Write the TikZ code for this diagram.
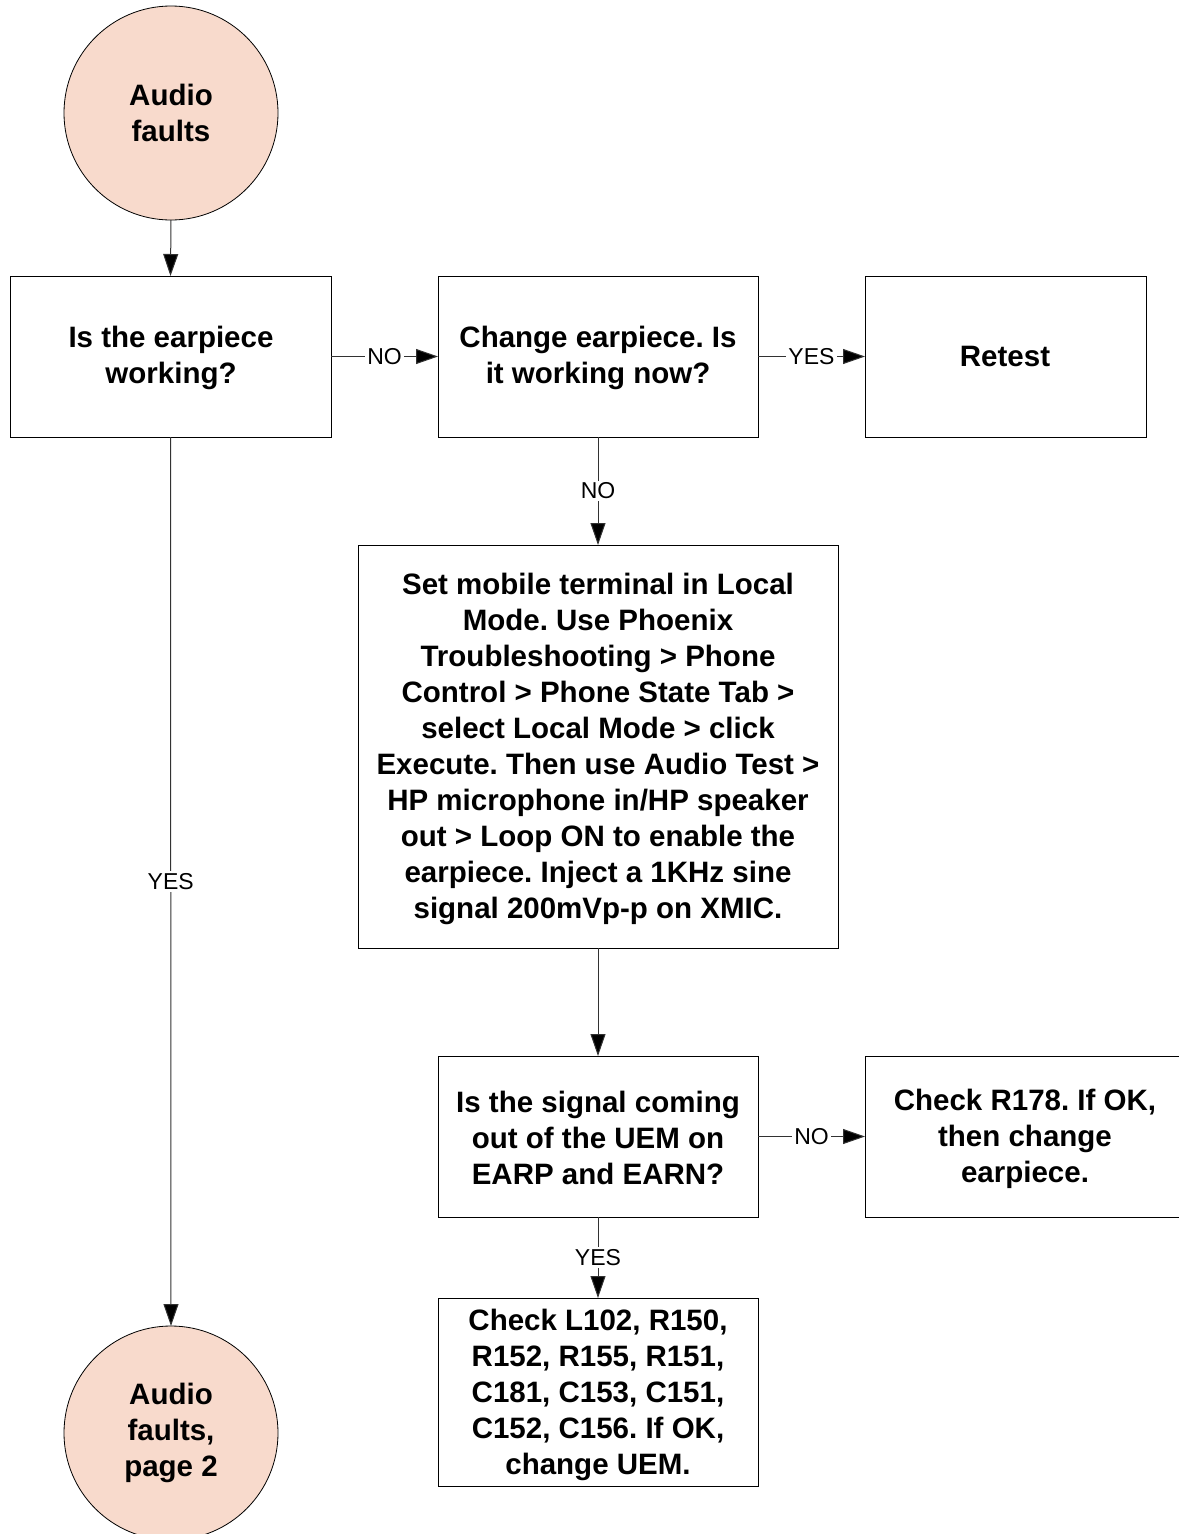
\documentclass[tikz,border=0pt]{standalone}
\usepackage{fontspec}
\setmainfont{Liberation Sans}
\usetikzlibrary{arrows.meta}
\definecolor{peach}{RGB}{248,218,204}
\definecolor{linegray}{RGB}{50,50,50}
\frenchspacing
\begin{document}
\begin{tikzpicture}[x=1pt,y=-1pt,
  every node/.style={inner sep=0pt,outer sep=0pt},
  boxtxt/.style={font=\fontsize{29.5}{36}\selectfont\bfseries,align=center},
  termcircle/.style={circle,draw=black,line width=0.8pt,fill=peach,minimum size=214pt,boxtxt},
  conn/.style={draw=linegray,line width=1pt,-{Triangle[length=22pt,width=15pt,fill=black]}},
  lbl/.style={fill=white,font=\fontsize{23}{26}\selectfont,inner sep=2pt}]
\useasboundingbox (0,0) rectangle (1178,1534);
% boxes
\draw[line width=0.8pt] (10,276) rectangle (331,437);
\draw[line width=0.8pt] (438,276) rectangle (758,437);
\draw[line width=0.8pt] (865,276) rectangle (1146,437);
\draw[line width=0.8pt] (358,545) rectangle (838,948);
\draw[line width=0.8pt] (438,1056) rectangle (758,1217);
\draw[line width=0.8pt] (865,1056) rectangle (1190,1217);
\draw[line width=0.8pt] (438,1298) rectangle (758,1486);
% named anchors (invisible nodes covering the boxes)
\node[minimum width=321pt,minimum height=161pt] (b1) at (170.5,356.5) {};
\node[minimum width=320pt,minimum height=161pt] (b2) at (598,356.5) {};
\node[minimum width=281pt,minimum height=161pt] (b3) at (1005.5,356.5) {};
\node[minimum width=480pt,minimum height=403pt] (b4) at (598,746.5) {};
\node[minimum width=320pt,minimum height=161pt] (b5) at (598,1136.5) {};
\node[minimum width=325pt,minimum height=161pt] (b6) at (1027.5,1136.5) {};
\node[minimum width=320pt,minimum height=188pt] (b7) at (598,1392) {};
% texts
\node[boxtxt] at (171,358) {Is the earpiece\\working?};
\node[boxtxt] at (598,358) {Change earpiece. Is\\it working now?};
\node[boxtxt] at (1005,356) {Retest};
\node[boxtxt] at (598,749) {Set mobile terminal in Local\\Mode. Use Phoenix\\Troubleshooting > Phone\\Control > Phone State Tab >\\select Local Mode > click\\Execute. Then use Audio Test >\\HP microphone in/HP speaker\\out > Loop ON to enable the\\earpiece. Inject a 1KHz sine\\signal 200mVp-p on XMIC.};
\node[boxtxt] at (598,1138) {Is the signal coming\\out of the UEM on\\EARP and EARN?};
\node[boxtxt] at (1025,1139) {Check R178. If OK,\\then change\\earpiece.};
\node[boxtxt] at (598,1395) {Check L102, R150,\\R152, R155, R151,\\C181, C153, C151,\\C152, C156. If OK,\\change UEM.};
% terminals
\node[termcircle] (c1) at (171,113) {Audio\\faults};
\node[termcircle] (c2) at (171,1433) {Audio\\faults,\\page 2};
% connectors
\draw[conn] (c1.south) -- (b1.north);
\draw[conn] (b1.east) -- node[lbl]{NO} (b2.west);
\draw[conn] (b2.east) -- node[lbl]{YES} (b3.west);
\draw[conn] (b2.south) -- node[lbl]{NO} (b4.north);
\draw[conn] (b1.south) -- node[lbl,pos=0.5]{YES} (c2.north);
\draw[conn] (b4.south) -- (b5.north);
\draw[conn] (b5.east) -- node[lbl]{NO} (b6.west);
\draw[conn] (b5.south) -- node[lbl]{YES} (b7.north);
\end{tikzpicture}
\end{document}
